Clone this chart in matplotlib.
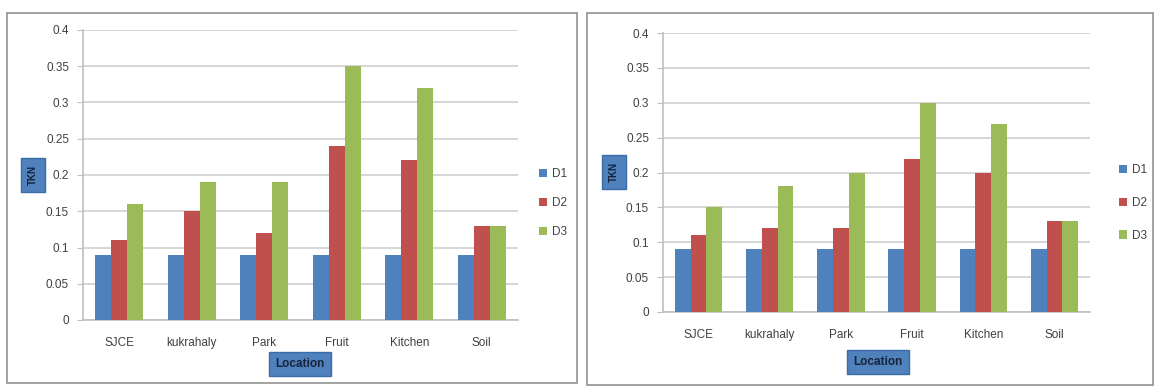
import matplotlib.pyplot as plt
import numpy as np
from matplotlib.patches import Rectangle

plt.rcParams["font.family"] = ["Liberation Sans Narrow", "Liberation Sans", "DejaVu Sans"]

locations = ["SJCE", "kukrahaly", "Park", "Fruit", "Kitchen", "Soil"]
series_names = ["D1", "D2", "D3"]

left_d1 = [0.09, 0.09, 0.09, 0.09, 0.09, 0.09]
left_d2 = [0.11, 0.15, 0.12, 0.24, 0.22, 0.13]
left_d3 = [0.16, 0.19, 0.19, 0.35, 0.32, 0.13]

right_d1 = [0.09, 0.09, 0.09, 0.09, 0.09, 0.09]
right_d2 = [0.11, 0.12, 0.12, 0.22, 0.20, 0.13]
right_d3 = [0.15, 0.18, 0.20, 0.30, 0.27, 0.13]

y_ticks = [0, 0.05, 0.1, 0.15, 0.2, 0.25, 0.3, 0.35, 0.4]
y_tick_labels = ["0", "0.05", "0.1", "0.15", "0.2", "0.25", "0.3", "0.35", "0.4"]

COLORS = ["#4F81BD", "#C0504D", "#9BBB59"]
TEXT = "#404040"
W, H = 1157, 387


def fx(px):
    return px / W


def fy(py):
    return 1 - py / H


def draw_panel(fig, box, axes_px, series, ylab_px, xlab_px, legend_px, spacing):
    # outer frame around each chart
    x0, y0, x1, y1 = box
    fig.patches.append(Rectangle((fx(x0), fy(y1)), fx(x1 - x0), (y1 - y0) / H,
                                 transform=fig.transFigure, fill=False,
                                 edgecolor="#9A9A9A", linewidth=1.3))
    l, t, r, b = axes_px
    ax = fig.add_axes([fx(l), fy(b), fx(r - l), (b - t) / H])

    x = np.arange(len(locations))
    width = 0.222
    for i, (vals, name) in enumerate(zip(series, series_names)):
        ax.bar(x + (i - 1) * width, vals, width, color=COLORS[i], label=name, zorder=3)

    ax.set_xlim(-0.5, len(locations) - 0.5)
    ax.set_ylim(0, 0.4)
    ax.set_yticks(y_ticks)
    ax.set_yticklabels(y_tick_labels)
    ax.set_xticks(x)
    ax.set_xticklabels(locations)
    ax.tick_params(axis="y", length=4, color="#BFBFBF", labelsize=8.5, labelcolor=TEXT, pad=6)
    ax.tick_params(axis="x", length=0, labelsize=8.5, labelcolor=TEXT, pad=12)
    ax.grid(axis="y", color="#D0D0D0", linewidth=1.2, zorder=0)
    for s in ["top", "right"]:
        ax.spines[s].set_visible(False)
    for s in ["left", "bottom"]:
        ax.spines[s].set_color("#BFBFBF")
        ax.spines[s].set_linewidth(1.2)

    fig.text(fx(ylab_px[0]), fy(ylab_px[1]), "TKN", rotation=90, ha="center", va="center",
             fontsize=7, fontweight="bold", color="#17243A",
             bbox=dict(boxstyle="square,pad=0.75", facecolor="#4F81BD", edgecolor="#3A6CA8"))
    fig.text(fx(xlab_px[0]), fy(xlab_px[1]), "Location", ha="center", va="center",
             fontsize=8.5, fontweight="bold", color="#17243A",
             bbox=dict(boxstyle="square,pad=0.5", facecolor="#4F81BD", edgecolor="#3A6CA8"))

    ax.legend(loc="center left", bbox_to_anchor=(fx(legend_px[0]), fy(legend_px[1])),
              bbox_transform=fig.transFigure, frameon=False, fontsize=8.5,
              handlelength=0.7, handleheight=0.7, handletextpad=0.4,
              labelspacing=spacing, labelcolor=TEXT)
    return ax


fig = plt.figure(figsize=(W / 100, H / 100), dpi=100)

draw_panel(fig, (7, 13, 577, 383), (83, 30, 518, 320),
           [left_d1, left_d2, left_d3], (33, 175), (300, 364), (528, 203), 1.45)
draw_panel(fig, (587, 13, 1153, 385), (663, 33, 1090, 312),
           [right_d1, right_d2, right_d3], (614, 172), (878, 362), (1108, 203), 1.75)

fig.savefig("out.png", dpi=100)
